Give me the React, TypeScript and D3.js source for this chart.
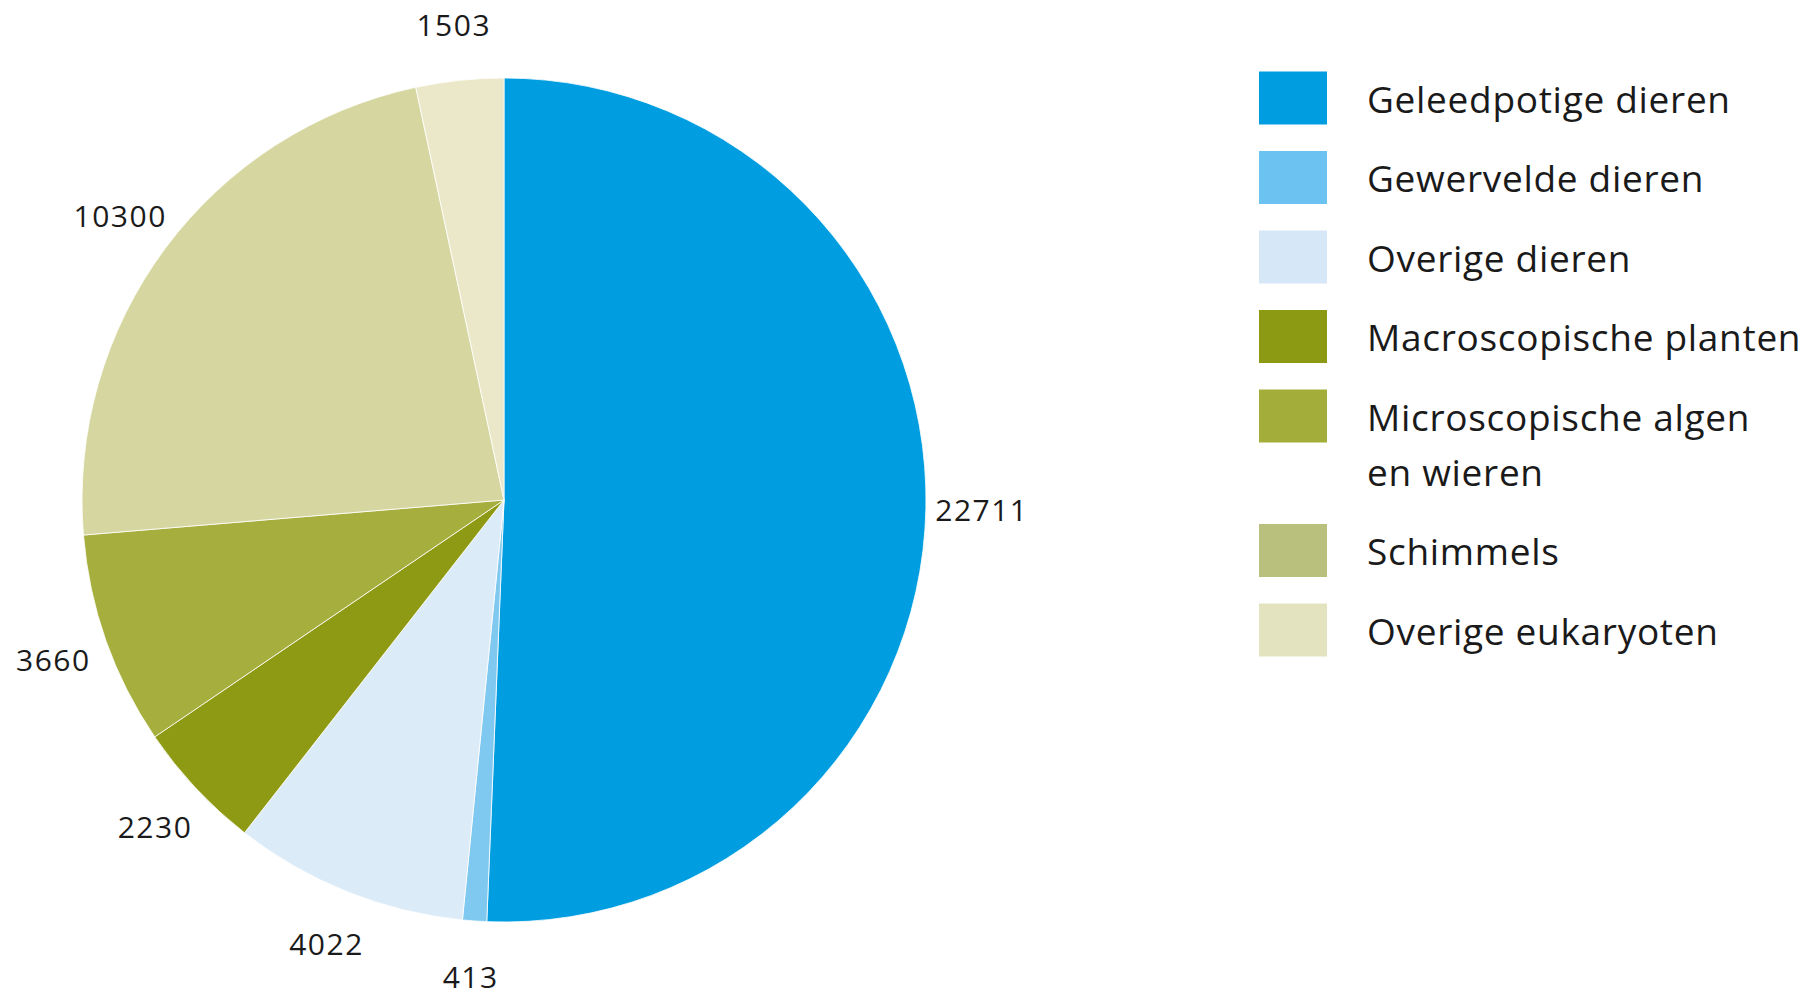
import React from "react";
import * as d3 from "d3";

const categories = [
  "Geleedpotige dieren",
  "Gewervelde dieren",
  "Overige dieren",
  "Macroscopische planten",
  "Microscopische algen en wieren",
  "Schimmels",
  "Overige eukaryoten",
];
const legendLines = [
  ["Geleedpotige dieren"],
  ["Gewervelde dieren"],
  ["Overige dieren"],
  ["Macroscopische planten"],
  ["Microscopische algen", "en wieren"],
  ["Schimmels"],
  ["Overige eukaryoten"],
];
const values = [22711, 413, 4022, 2230, 3660, 10300, 1503];
const colors = ["#009ee0", "#7fc8f0", "#dcebf8", "#8f9a14", "#a6ae3e", "#d6d6a0", "#eae8c8"];
const legendColors = ["#009ee0", "#6cc2f0", "#d6e8f8", "#8c9912", "#a3ad3a", "#b9bf7c", "#e4e3bf"];

const W = 1808;
const H = 999;
const cx = 504;
const cy = 500;
const R = 422;
const labelR = 478;
const font = "'Open Sans', 'Noto Sans', sans-serif";

export default function App() {
  const pie = d3.pie<number>().sort(null).value((d) => d)(values);
  const arc = d3.arc<d3.PieArcDatum<number>>().innerRadius(0).outerRadius(R);
  const labelArc = d3.arc<d3.PieArcDatum<number>>().innerRadius(labelR).outerRadius(labelR);

  const rowY = d3.scaleLinear().domain([0, 1]).range([98, 177.5]);
  const lineH = 55;
  let extra = 0;
  const legendRows = categories.map((c, i) => {
    const y = rowY(i) + extra;
    extra += (legendLines[i].length - 1) * lineH;
    return { c, i, y };
  });

  return (
    <svg width={W} height={H} style={{ position: "absolute", left: 0, top: 0, background: "#fff" }}>
      <g transform={`translate(${cx},${cy})`}>
        {pie.map((p, i) => (
          <path key={i} d={arc(p) || ""} fill={colors[i]} stroke="#fff" strokeWidth={0.8} />
        ))}
        {pie.map((p, i) => {
          const [x, y] = labelArc.centroid(p);
          return (
            <text
              key={"l" + i}
              x={x}
              y={y}
              textAnchor="middle"
              dominantBaseline="central"
              fontFamily={font}
              fontSize={30}
              letterSpacing={1.5}
              fill="#1a1a1a"
            >
              {values[i]}
            </text>
          );
        })}
      </g>
      <g>
        {legendRows.map(({ c, i, y }) => (
          <g key={c}>
            <rect x={1259} y={y - 26.5} width={68} height={53} fill={legendColors[i]} />
            <text fontFamily={font} fontSize={37} letterSpacing={0.7} fill="#1a1a1a">
              {legendLines[i].map((ln, k) => (
                <tspan key={k} x={1367} y={y + k * lineH} dominantBaseline="central">
                  {ln}
                </tspan>
              ))}
            </text>
          </g>
        ))}
      </g>
    </svg>
  );
}
